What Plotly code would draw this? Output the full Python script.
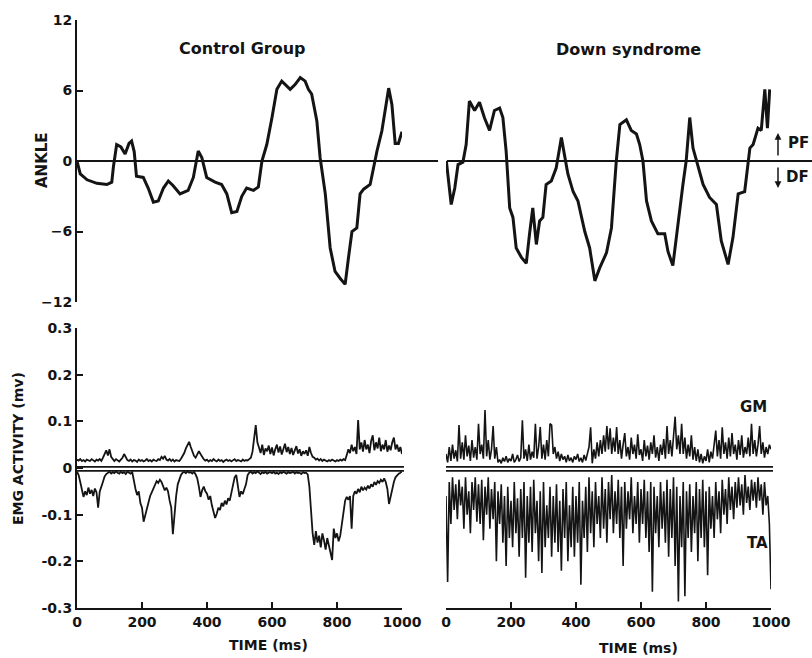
import numpy as np
import plotly.graph_objects as go

W, H = 812, 658

# Ankle angle (deg): time samples (ms) and values
cg_ankle_t = [0, 10, 31, 61, 92, 107, 112, 122, 135, 148, 160, 168, 176, 183, 204, 219, 235, 250, 266, 281,
              296, 317, 342, 358, 373, 384, 399, 425, 445, 461, 476, 492, 507, 522, 543, 558, 569, 584, 600, 615,
              630, 646, 656, 671, 687, 702, 712, 722, 738, 748, 764, 779, 794, 810, 825, 835, 846, 861, 871, 882,
              902, 923, 938, 959, 969, 979, 989, 1000]
cg_ankle_v = [0, -1.1, -1.6, -1.9, -2.0, -1.8, -0.5, 1.4, 1.2, 0.6, 1.5, 1.7, 0.8, -1.3, -1.4, -2.3, -3.5, -3.4, -2.3, -1.7,
              -2.1, -2.8, -2.5, -1.4, 0.85, 0.3, -1.4, -1.8, -2.0, -2.8, -4.4, -4.3, -3.0, -2.3, -2.5, -2.2, 0, 1.4, 3.7, 6.1,
              6.8, 6.4, 6.1, 6.5, 7.1, 6.8, 6.1, 5.7, 3.4, 0.3, -2.8, -7.4, -9.4, -10.0, -10.5, -8.3, -6.0, -5.7, -2.8, -2.4,
              -2.0, 0.85, 2.55, 6.2, 4.8, 1.5, 1.5, 2.5]

ds_ankle_t = [1, 11, 16, 27, 37, 52, 62, 72, 88, 103, 118, 134, 149, 165, 175, 185, 196, 206, 216, 232,
              247, 257, 267, 278, 288, 298, 308, 324, 339, 355, 365, 375, 391, 406, 427, 442, 458, 473, 494, 509,
              524, 535, 555, 570, 586, 596, 606, 617, 632, 652, 673, 683, 698, 714, 729, 739, 750, 760, 776, 791,
              811, 832, 847, 868, 883, 899, 919, 935, 945, 960, 970, 981, 989, 996]
ds_ankle_v = [0, -2.3, -3.7, -2.3, -0.3, -0.1, 1.4, 5.1, 4.3, 5.0, 3.7, 2.6, 4.3, 4.5, 3.7, 0.85, -4.0, -4.8, -7.4, -8.2,
              -8.7, -6.2, -4.0, -7.1, -5.1, -4.8, -2.0, -1.7, -0.6, 2.0, 0.6, -1.1, -2.6, -3.4, -6.0, -7.4, -10.2, -9.1, -7.8, -5.7,
              0, 3.1, 3.5, 2.6, 2.3, 1.4, 0, -3.4, -5.1, -6.2, -6.2, -7.7, -8.9, -5.1, -2.0, 0, 3.7, 1.1, -0.6, -2.0,
              -3.1, -3.7, -6.8, -8.8, -6.5, -2.8, -2.6, 1.1, 1.4, 2.8, 2.6, 6.1, 2.8, 6.1]

# EMG activity (mv), sampled every 5 ms over 0-1000 ms
cg_gm = [0.018, 0.016, 0.019, 0.015, 0.017, 0.014, 0.018, 0.016, 0.015, 0.019, 0.017, 0.014, 0.018, 0.016, 0.019, 0.015, 0.022,
         0.03, 0.038, 0.027, 0.04,
         0.024, 0.018, 0.015, 0.019, 0.016, 0.014, 0.018,
         0.022, 0.03, 0.024, 0.017,
         0.015, 0.018, 0.014, 0.017, 0.016, 0.013, 0.018, 0.015, 0.017, 0.014, 0.016, 0.019, 0.015, 0.017, 0.014, 0.018, 0.016, 0.015, 0.019, 0.017,
         0.024, 0.02, 0.026, 0.018,
         0.016, 0.019, 0.015, 0.018, 0.014, 0.017, 0.016, 0.015, 0.02,
         0.025, 0.032, 0.042, 0.05, 0.056, 0.045, 0.035,
         0.026, 0.022, 0.028,
         0.036, 0.03, 0.024,
         0.019, 0.016, 0.018, 0.014, 0.017, 0.015, 0.019, 0.016, 0.014, 0.018, 0.015, 0.017, 0.013, 0.016, 0.018,
         0.015, 0.017, 0.014, 0.016, 0.019, 0.015, 0.017, 0.016, 0.014, 0.018, 0.015, 0.017, 0.016, 0.019, 0.022,
         0.035, 0.06, 0.092, 0.055,
         0.045, 0.032, 0.05, 0.028, 0.042, 0.036, 0.048, 0.03, 0.044, 0.027, 0.04, 0.05, 0.033, 0.046, 0.029,
         0.041, 0.052, 0.034, 0.045, 0.03, 0.043, 0.028, 0.038, 0.047, 0.031, 0.04, 0.026, 0.036,
         0.03, 0.038, 0.026, 0.045, 0.032, 0.024,
         0.022, 0.018, 0.02, 0.016, 0.019, 0.015, 0.018, 0.016, 0.014, 0.017, 0.015, 0.018, 0.016, 0.014, 0.017, 0.015, 0.018, 0.016, 0.019, 0.017,
         0.028, 0.04, 0.032, 0.05, 0.036, 0.045, 0.03, 0.103, 0.04, 0.055, 0.035, 0.06, 0.04, 0.05, 0.032, 0.058, 0.07, 0.038,
         0.055, 0.042, 0.065, 0.036, 0.05, 0.04, 0.06, 0.035, 0.048, 0.038, 0.055, 0.065, 0.04, 0.05, 0.035, 0.045, 0.03]

cg_ta = [-0.008, -0.015, -0.03, -0.045, -0.062, -0.05, -0.058, -0.042, -0.055, -0.047, -0.06, -0.044, -0.052,
         -0.085, -0.05, -0.04, -0.03, -0.018, -0.013,
         -0.01, -0.008, -0.012, -0.009, -0.011, -0.007, -0.01, -0.012, -0.008, -0.011, -0.009, -0.013, -0.008, -0.01, -0.012, -0.009,
         -0.03, -0.045, -0.058, -0.05, -0.075,
         -0.085, -0.115, -0.1, -0.088, -0.07, -0.06,
         -0.052, -0.045, -0.035, -0.028, -0.032, -0.025, -0.03, -0.038,
         -0.048, -0.042, -0.05, -0.07, -0.085, -0.142, -0.095, -0.06,
         -0.035, -0.022, -0.015, -0.01,
         -0.008, -0.011, -0.007, -0.01, -0.009, -0.012, -0.008, -0.014,
         -0.022, -0.04, -0.062,
         -0.048, -0.04, -0.05,
         -0.055, -0.068, -0.06,
         -0.08, -0.095, -0.107, -0.098,
         -0.085, -0.09, -0.075, -0.082, -0.07, -0.078, -0.065, -0.07,
         -0.055, -0.035, -0.02,
         -0.015, -0.04, -0.062, -0.05, -0.056, -0.045, -0.035,
         -0.015,
         -0.01, -0.008, -0.012, -0.009, -0.011, -0.007, -0.01, -0.013, -0.009, -0.011, -0.008, -0.012, -0.01, -0.009, -0.011,
         -0.008, -0.012, -0.01, -0.013, -0.009, -0.011, -0.008, -0.01, -0.012, -0.009, -0.011, -0.01, -0.008, -0.012, -0.009,
         -0.011, -0.01, -0.013, -0.009, -0.011, -0.01, -0.014,
         -0.04, -0.09,
         -0.14, -0.165, -0.135, -0.16, -0.145, -0.17, -0.14, -0.155, -0.175, -0.15, -0.168, -0.18,
         -0.197,
         -0.13, -0.15, -0.14, -0.157, -0.145,
         -0.12,
         -0.095, -0.07, -0.062, -0.068,
         -0.06, -0.13, -0.06,
         -0.05, -0.055, -0.045, -0.052, -0.04, -0.048, -0.042, -0.046, -0.038, -0.044,
         -0.035, -0.04, -0.03, -0.036, -0.028, -0.032, -0.025, -0.03, -0.022,
         -0.03, -0.045, -0.077, -0.06,
         -0.045, -0.03, -0.02,
         -0.015, -0.012, -0.01, -0.007]

ds_gm = [0.03, 0.012, 0.045, 0.015, 0.05, 0.02, 0.038, 0.014,
         0.092, 0.02,
         0.055, 0.018, 0.07, 0.025,
         0.048, 0.015, 0.06, 0.022, 0.045, 0.018,
         0.095, 0.03, 0.05, 0.02, 0.124, 0.025,
         0.06, 0.018, 0.04, 0.09, 0.02, 0.045,
         0.012, 0.018, 0.01, 0.022, 0.014, 0.025, 0.012, 0.02, 0.015, 0.03, 0.012, 0.018, 0.028, 0.014, 0.022,
         0.102, 0.02,
         0.04, 0.015, 0.05, 0.018, 0.035, 0.022,
         0.095, 0.02, 0.045, 0.088, 0.02,
         0.05, 0.018, 0.06, 0.025, 0.095, 0.092, 0.03, 0.045,
         0.02, 0.035, 0.015, 0.03, 0.018, 0.025, 0.012, 0.028, 0.015, 0.022, 0.012, 0.025, 0.018, 0.03, 0.014, 0.022, 0.012, 0.028, 0.016,
         0.03, 0.045, 0.087,
         0.01, 0.04, 0.02, 0.055, 0.025, 0.06, 0.03, 0.07,
         0.035, 0.09, 0.04, 0.085, 0.03, 0.065, 0.035, 0.088,
         0.03, 0.06, 0.02, 0.05, 0.075, 0.025, 0.045, 0.018, 0.065, 0.03, 0.05, 0.02, 0.072, 0.028, 0.04,
         0.015, 0.06, 0.025, 0.048, 0.018, 0.055, 0.03, 0.07, 0.022, 0.045, 0.015, 0.05, 0.028, 0.062, 0.02,
         0.09, 0.03, 0.06, 0.025, 0.075, 0.11, 0.04, 0.07, 0.03, 0.095,
         0.03, 0.065, 0.02, 0.05, 0.025, 0.07, 0.018, 0.045, 0.015, 0.04, 0.012, 0.03, 0.01,
         0.025, 0.015, 0.04, 0.012, 0.035, 0.02, 0.05,
         0.08, 0.025, 0.06, 0.02, 0.087,
         0.03, 0.055, 0.02, 0.065, 0.025, 0.075, 0.03, 0.05, 0.018, 0.06, 0.028, 0.07, 0.022, 0.045, 0.03, 0.065, 0.025,
         0.095, 0.03, 0.06, 0.025, 0.05, 0.09,
         0.03, 0.055, 0.022, 0.045, 0.03, 0.05, 0.04]

ds_ta = [-0.06, -0.244, -0.03, -0.12, -0.02, -0.09, -0.035, -0.11, -0.025, -0.08,
         -0.04, -0.13, -0.02, -0.1, -0.05, -0.14, -0.03, -0.09, -0.02, -0.115,
         -0.035, -0.12, -0.025, -0.155, -0.04, -0.1, -0.02, -0.13, -0.045, -0.11,
         -0.03, -0.2, -0.05, -0.12, -0.035, -0.16, -0.06, -0.21, -0.04, -0.15,
         -0.07, -0.17, -0.03, -0.14, -0.065, -0.19, -0.045, -0.15, -0.03, -0.235,
         -0.06, -0.16, -0.04, -0.18, -0.025, -0.14, -0.07, -0.2, -0.05, -0.225,
         -0.03, -0.17, -0.08, -0.15, -0.04, -0.19, -0.06, -0.16, -0.035, -0.18,
         -0.07, -0.22, -0.045, -0.15, -0.03, -0.2, -0.08, -0.17, -0.04, -0.19,
         -0.06, -0.16, -0.03, -0.25, -0.07, -0.15, -0.04, -0.18, -0.02, -0.14,
         -0.05, -0.17, -0.03, -0.12, -0.06, -0.15, -0.02, -0.13, -0.045, -0.16,
         -0.03, -0.11, -0.015, -0.14, -0.05, -0.12, -0.025, -0.15, -0.04, -0.21,
         -0.03, -0.13, -0.05, -0.11, -0.02, -0.14, -0.06, -0.12, -0.03, -0.16,
         -0.045, -0.12, -0.025, -0.15, -0.05, -0.18, -0.03, -0.265, -0.04, -0.14,
         -0.06, -0.17, -0.03, -0.13, -0.05, -0.16, -0.025, -0.19, -0.045, -0.15,
         -0.02, -0.21, -0.04, -0.286, -0.06, -0.17, -0.03, -0.275, -0.05, -0.15,
         -0.035, -0.18, -0.06, -0.14, -0.03, -0.2, -0.045, -0.15, -0.025, -0.17,
         -0.05, -0.23, -0.04, -0.13, -0.06, -0.15, -0.03, -0.11, -0.05, -0.14,
         -0.025, -0.1, -0.045, -0.12, -0.02, -0.09, -0.04, -0.11, -0.03, -0.085,
         -0.02, -0.08, -0.035, -0.1, -0.015, -0.075, -0.04, -0.09, -0.025, -0.07,
         -0.03, -0.085, -0.02, -0.07, -0.035, -0.1, -0.03, -0.08, -0.06, -0.12, -0.26]

ankle_ticks = [12, 6, 0, -6, -12]
emg_ticks = [0.3, 0.2, 0.1, 0, -0.1, -0.2, -0.3]
emg_tick_text = ["0.3", "0.2", "0.1", "0", "-0.1", "-0.2", "-0.3"]
time_ticks = [0, 200, 400, 600, 800, 1000]


def fx(p):
    return p / W


def fy(p):
    return 1 - p / H


def emg_time(values):
    return np.linspace(0, 1000, len(values))


INK = "#141414"
FAM = "DejaVu Sans, Liberation Sans, Arial, sans-serif"
tick_font = dict(family=FAM, size=14, color=INK, weight="bold")

fig = go.Figure()
line_top = dict(color=INK, width=3)
line_cg = dict(color=INK, width=1.8)
line_ds = dict(color=INK, width=1.6)

fig.add_trace(go.Scatter(x=cg_ankle_t, y=cg_ankle_v, mode="lines", line=line_top, xaxis="x", yaxis="y"))
fig.add_trace(go.Scatter(x=ds_ankle_t, y=ds_ankle_v, mode="lines", line=line_top, xaxis="x2", yaxis="y2"))
fig.add_trace(go.Scatter(x=emg_time(cg_gm), y=cg_gm, mode="lines", line=line_cg, xaxis="x3", yaxis="y3"))
fig.add_trace(go.Scatter(x=emg_time(cg_ta), y=cg_ta, mode="lines", line=line_cg, xaxis="x3", yaxis="y3"))
fig.add_trace(go.Scatter(x=emg_time(ds_gm), y=ds_gm, mode="lines", line=line_ds, xaxis="x4", yaxis="y4"))
fig.add_trace(go.Scatter(x=emg_time(ds_ta), y=ds_ta, mode="lines", line=line_ds, xaxis="x4", yaxis="y4"))

left_dom = [fx(77), fx(402)]
right_dom = [fx(446), fx(771)]
top_dom = [fy(302), fy(20)]
bot_dom = [fy(608), fy(328)]

axis_common = dict(showgrid=False, zeroline=False, showline=True, linecolor=INK, linewidth=2,
                   ticks="inside", ticklen=6, tickwidth=2, tickcolor=INK, tickfont=tick_font,
                   automargin=False)
hidden = dict(visible=False, automargin=False)

fig.update_layout(
    template="none",
    width=W, height=H, autosize=False, margin=dict(l=0, r=0, t=0, b=0, pad=0),
    paper_bgcolor="white", plot_bgcolor="white", showlegend=False,
    xaxis=dict(domain=left_dom, range=[0, 1000], anchor="y", **hidden),
    yaxis=dict(domain=top_dom, range=[-12, 12], anchor="x", tickvals=ankle_ticks, **axis_common),
    xaxis2=dict(domain=right_dom, range=[0, 1000], anchor="y2", **hidden),
    yaxis2=dict(domain=top_dom, range=[-12, 12], anchor="x2", **hidden),
    xaxis3=dict(domain=left_dom, range=[0, 1000], anchor="y3", tickvals=time_ticks, **axis_common),
    yaxis3=dict(domain=bot_dom, range=[-0.3, 0.3], anchor="x3", tickvals=emg_ticks,
                ticktext=emg_tick_text, **axis_common),
    xaxis4=dict(domain=right_dom, range=[0, 1000], anchor="y4", tickvals=time_ticks, **axis_common),
    yaxis4=dict(domain=bot_dom, range=[-0.3, 0.3], anchor="x4", **hidden),
)

# zero reference lines
shapes = [
    dict(type="line", xref="paper", yref="y", x0=fx(77), x1=fx(438), y0=0, y1=0, line=dict(color=INK, width=2)),
    dict(type="line", xref="paper", yref="y2", x0=fx(447), x1=fx(812), y0=0, y1=0, line=dict(color=INK, width=2)),
]
for x0, x1, yr in [(77, 404, "y3"), (446, 773, "y4")]:
    for yv in (0.0025, -0.006):
        shapes.append(dict(type="line", xref="paper", yref=yr, x0=fx(x0), x1=fx(x1), y0=yv, y1=yv,
                           line=dict(color=INK, width=1.8)))
fig.update_layout(shapes=shapes)


def label(text, x, y, size=14, angle=0):
    return dict(text=text, x=fx(x), y=fy(y), xref="paper", yref="paper", showarrow=False,
                xanchor="center", yanchor="middle", textangle=angle,
                font=dict(family=FAM, size=size, color=INK, weight="bold"))


annotations = [
    label("Control Group", 242, 48, 16),
    label("Down syndrome", 628, 50, 16),
    label("ANKLE", 42, 160, 15, -90),
    label("EMG ACTIVITY (mv)", 18, 449, 14, -90),
    label("TIME (ms)", 268, 645, 14),
    label("TIME (ms)", 638, 648, 14),
    label("GM", 753, 407, 15),
    label("TA", 757, 543, 15),
    label("PF", 798, 143, 15),
    label("DF", 797, 177, 15),
    dict(text="", x=fx(778), y=fy(133), xref="paper", yref="paper", showarrow=True, ax=0, ay=24,
         arrowhead=2, arrowsize=0.9, arrowwidth=1.5, arrowcolor=INK),
    dict(text="", x=fx(778), y=fy(188), xref="paper", yref="paper", showarrow=True, ax=0, ay=-22,
         arrowhead=2, arrowsize=0.9, arrowwidth=1.5, arrowcolor=INK),
]
fig.update_layout(annotations=annotations)

# fixed-size figure; keep it from resizing itself to the window
fig.write_html("out.html", config={"responsive": False})
